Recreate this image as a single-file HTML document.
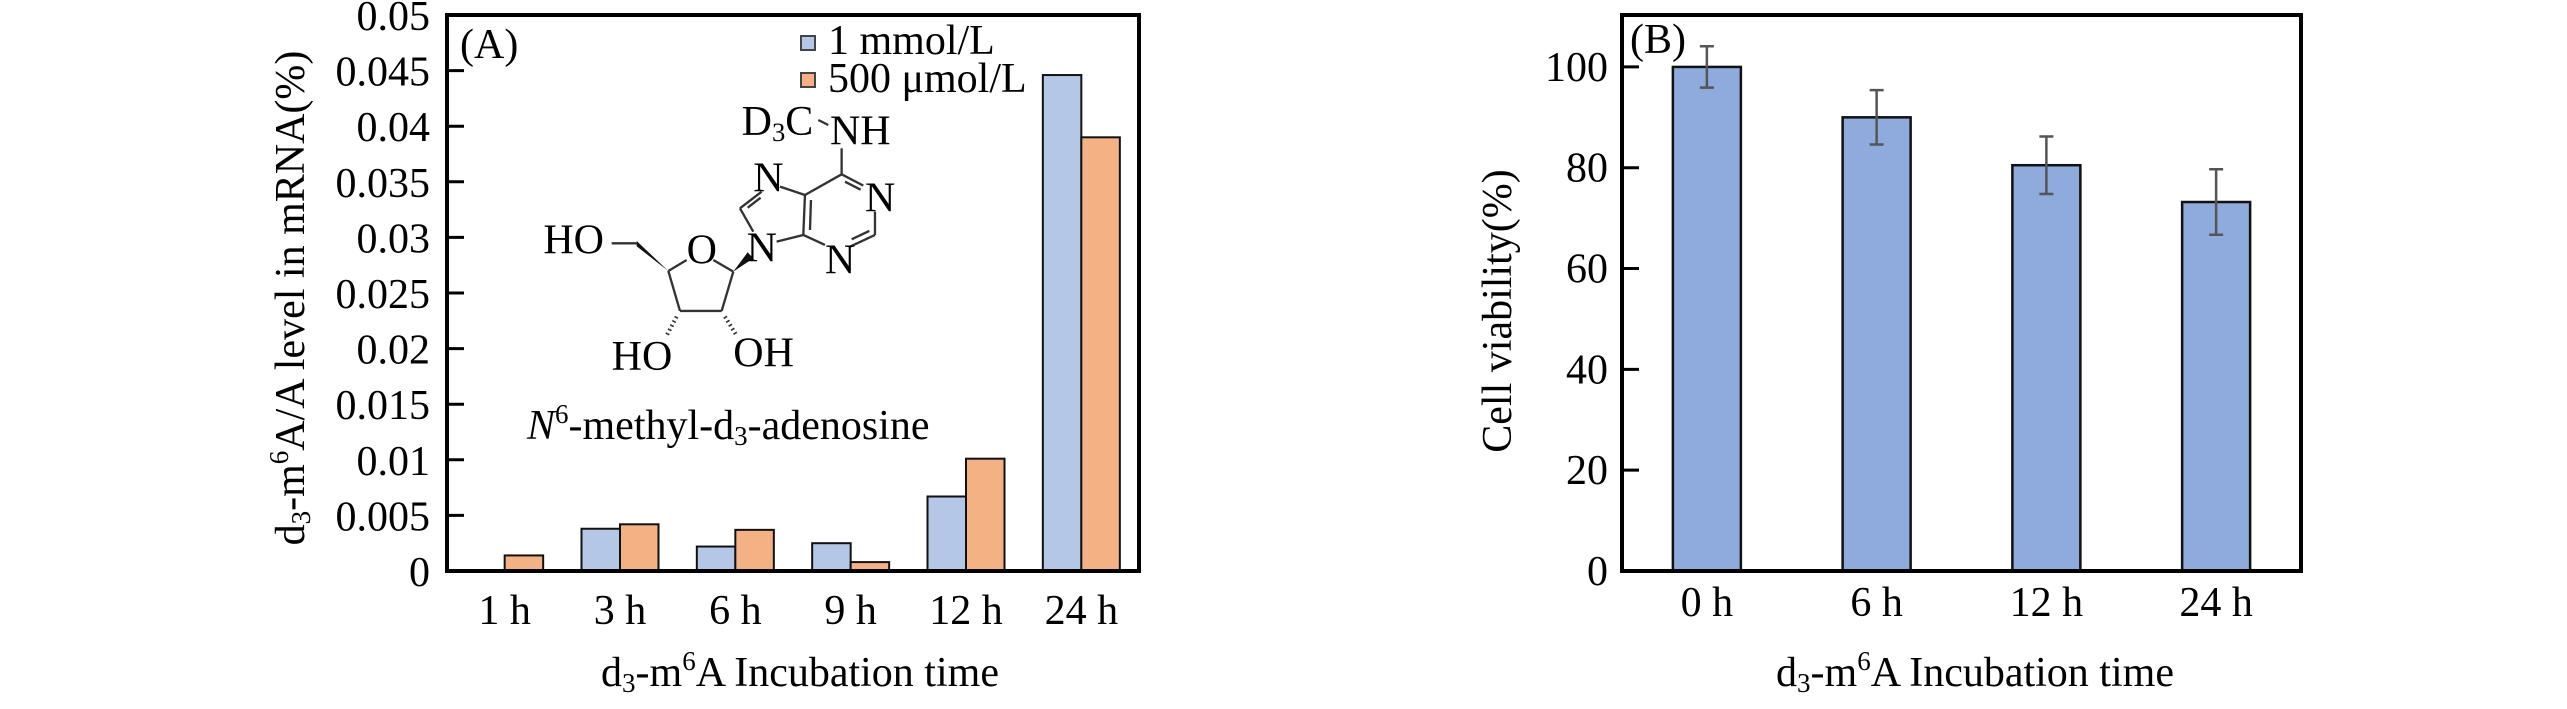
<!DOCTYPE html>
<html><head><meta charset="utf-8"><style>
html,body{margin:0;padding:0;background:#fff;}
svg{display:block;font-family:"Liberation Serif",serif;}
</style></head><body>
<svg id="fig" width="2567" height="709" viewBox="0 0 2567 709" xmlns="http://www.w3.org/2000/svg">
<g id="chartA"></g>
<g id="chartB"></g>
<g transform="translate(520,15) scale(0.3333)" font-size="126" fill="#000">
  <g stroke="#333" stroke-width="7" fill="none">
    <line x1="895" y1="315" x2="925" y2="330"/>
    <line x1="965" y1="400" x2="965" y2="478"/>
    <line x1="965" y1="478" x2="1030" y2="512"/>
    <line x1="975" y1="500" x2="1022" y2="524"/>
    <line x1="1065" y1="590" x2="1065" y2="660"/>
    <line x1="1065" y1="660" x2="990" y2="695"/>
    <line x1="1048" y1="648" x2="995" y2="673"/>
    <line x1="915" y1="690" x2="850" y2="660"/>
    <line x1="850" y1="660" x2="855" y2="540"/>
    <line x1="870" y1="645" x2="873" y2="555"/>
    <line x1="855" y1="540" x2="965" y2="478"/>
    <line x1="855" y1="540" x2="780" y2="515"/>
    <line x1="725" y1="530" x2="660" y2="580"/>
    <line x1="722" y1="548" x2="683" y2="578"/>
    <line x1="660" y1="580" x2="700" y2="650"/>
    <line x1="770" y1="680" x2="850" y2="660"/>
    <line x1="640" y1="770" x2="580" y2="735"/>
    <line x1="500" y1="735" x2="445" y2="768"/>
    <line x1="275" y1="685" x2="350" y2="685"/>
    <line x1="445" y1="768" x2="480" y2="888"/>
    <line x1="480" y1="888" x2="605" y2="888"/>
    <line x1="605" y1="888" x2="640" y2="770"/>
    <line x1="470" y1="905" x2="440" y2="962" stroke-width="12" stroke-dasharray="5 9"/>
    <line x1="615" y1="905" x2="650" y2="962" stroke-width="12" stroke-dasharray="5 9"/>
  </g>
  <polygon points="640,770 683,712 700,730" fill="#111"/>
  <polygon points="350,678 350,694 445,768" fill="#111"/>
  <text x="665" y="360">D<tspan font-size="80" dy="18">3</tspan><tspan dy="-18">C</tspan></text>
  <text x="930" y="388">NH</text>
  <text x="700" y="530">N</text>
  <text x="1035" y="590">N</text>
  <text x="680" y="740">N</text>
  <text x="915" y="775">N</text>
  <text x="500" y="745">O</text>
  <text x="70" y="715">HO</text>
  <text x="275" y="1065">HO</text>
  <text x="640" y="1055">OH</text>
</g>
<text x="527" y="439" font-size="42"><tspan font-style="italic">N</tspan><tspan font-size="27" dy="-16">6</tspan><tspan dy="16">-methyl-d</tspan><tspan font-size="27" dy="6">3</tspan><tspan dy="-6">-adenosine</tspan></text>
</svg>
<script>
// ---- Chart A data ----
const catsA = ["1 h","3 h","6 h","9 h","12 h","24 h"];
const seriesA1 = [0, 0.0038, 0.0022, 0.0025, 0.0067, 0.0446];   // 1 mmol/L
const seriesA2 = [0.0014, 0.0042, 0.0037, 0.0008, 0.0101, 0.039]; // 500 umol/L
const ticksA = ["0","0.005","0.01","0.015","0.02","0.025","0.03","0.035","0.04","0.045","0.05"];
// ---- Chart B data ----
const catsB = ["0 h","6 h","12 h","24 h"];
const valuesB = [100, 90, 80.5, 73.2];
const errorsB = [4.1, 5.4, 5.7, 6.5];
const ticksB = ["0","20","40","60","80","100"];

const NS = "http://www.w3.org/2000/svg";
function mk(parent, tag, attrs, text){
  const e = document.createElementNS(NS, tag);
  for (const k in attrs) e.setAttribute(k, attrs[k]);
  if (text !== undefined) e.textContent = text;
  parent.appendChild(e);
  return e;
}

// ===== Chart A =====
(function(){
  const g = document.getElementById("chartA");
  const L=447, R=1139, T=15, B=571, ymax=0.05;
  const y = v => B - v/ymax*(B-T);
  const band = (R-L)/catsA.length;
  const x = i => L + band*(i+0.5);
  const bw = 38.5;
  catsA.forEach((c,i)=>{
    const b1 = mk(g,"rect",{x:x(i)-bw,y:y(seriesA1[i]),width:bw,height:B-y(seriesA1[i]),fill:"#B4C7E7",stroke:"#111","stroke-width":2});
    
    
    const b2 = mk(g,"rect",{x:x(i),y:y(seriesA2[i]),width:bw,height:B-y(seriesA2[i]),fill:"#F4B183",stroke:"#111","stroke-width":2});
    
    
    const t = mk(g,"text",{x:x(i),y:624,"font-size":42,"text-anchor":"middle"},c);
    
    
  });
  ticksA.forEach((lab,i)=>{
    const v = parseFloat(lab);
    if (i>0 && i<ticksA.length-1){
      const tk = mk(g,"line",{x1:L,x2:L+17,y1:y(v),y2:y(v),stroke:"#000","stroke-width":3});
      
      
    }
    const t = mk(g,"text",{x:430,y:y(v)+15,"font-size":42,"text-anchor":"end"},lab);
    
    
  });
  const frame = mk(g,"rect",{x:L,y:T,width:R-L,height:B-T,fill:"none",stroke:"#000","stroke-width":4});
  
  
  const pl = mk(g,"text",{x:460,y:58,"font-size":42},"(A)");
  
  
  const lg = mk(g,"g",{});
  
  
  const s1 = mk(lg,"rect",{x:801,y:36,width:14,height:14,fill:"#B4C7E7",stroke:"#444","stroke-width":2});
  
  
  const l1 = mk(lg,"text",{x:828,y:54,"font-size":42},"1 mmol/L");
  
  
  const s2 = mk(lg,"rect",{x:801,y:73,width:14,height:14,fill:"#F4B183",stroke:"#444","stroke-width":2});
  
  
  const l2 = mk(lg,"text",{x:828,y:92,"font-size":42},"500 \u03bcmol/L");
  
  
  const yt = mk(g,"text",{transform:"translate(304,298) rotate(-90)","font-size":42,"text-anchor":"middle"});
  
  
  yt.innerHTML = 'd<tspan font-size="27" dy="6">3</tspan><tspan dy="-6">-m</tspan><tspan font-size="27" dy="-16">6</tspan><tspan dy="16">A/A level in mRNA(%)</tspan>';
  const xt = mk(g,"text",{x:800,y:686,"font-size":42,"text-anchor":"middle"});
  
  
  xt.innerHTML = 'd<tspan font-size="27" dy="6">3</tspan><tspan dy="-6">-m</tspan><tspan font-size="27" dy="-16">6</tspan><tspan dy="16">A Incubation time</tspan>';
})();

// ===== Chart B =====
(function(){
  const g = document.getElementById("chartB");
  const L=1622, R=2301, T=15, B=571, ymax=110.3;
  const y = v => B - v/ymax*(B-T);
  const band = (R-L)/catsB.length;
  const x = i => L + band*(i+0.5);
  const bw = 68;
  catsB.forEach((c,i)=>{
    const b = mk(g,"rect",{x:x(i)-bw/2,y:y(valuesB[i]),width:bw,height:B-y(valuesB[i]),fill:"#8FAADC",stroke:"#111","stroke-width":2.5});
    
    
    const hi = y(valuesB[i]+errorsB[i]), lo = y(valuesB[i]-errorsB[i]);
    const eb = mk(g,"path",{d:`M${x(i)},${hi}V${lo}M${x(i)-7},${hi}H${x(i)+7}M${x(i)-7},${lo}H${x(i)+7}`,stroke:"#555","stroke-width":2.5,fill:"none"});
    
    
    const t = mk(g,"text",{x:x(i),y:616,"font-size":42,"text-anchor":"middle"},c);
    
    
  });
  ticksB.forEach((lab,i)=>{
    const v = parseFloat(lab);
    if (i>0){
      const tk = mk(g,"line",{x1:L,x2:L+17,y1:y(v),y2:y(v),stroke:"#000","stroke-width":3});
      
      
    }
    const t = mk(g,"text",{x:1608,y:y(v)+14,"font-size":42,"text-anchor":"end"},lab);
    
    
  });
  const frame = mk(g,"rect",{x:L,y:T,width:R-L,height:B-T,fill:"none",stroke:"#000","stroke-width":4});
  
  
  const pl = mk(g,"text",{x:1630,y:53,"font-size":42},"(B)");
  
  
  const yt = mk(g,"text",{transform:"translate(1511,311) rotate(-90)","font-size":42,"text-anchor":"middle"},"Cell viability(%)");
  
  
  const xt = mk(g,"text",{x:1975,y:686,"font-size":42,"text-anchor":"middle"});
  
  
  xt.innerHTML = 'd<tspan font-size="27" dy="6">3</tspan><tspan dy="-6">-m</tspan><tspan font-size="27" dy="-16">6</tspan><tspan dy="16">A Incubation time</tspan>';
})();
</script>
</body></html>
